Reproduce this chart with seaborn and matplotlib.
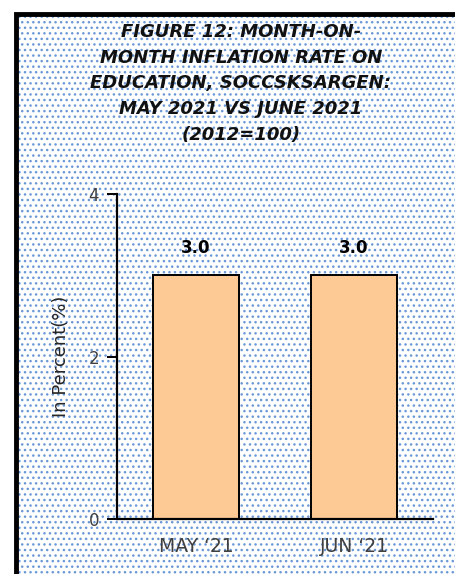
import numpy as np
import pandas as pd
import matplotlib
matplotlib.use("Agg")
import matplotlib.pyplot as plt
from matplotlib.patches import Rectangle
import seaborn as sns

months = ["MAY \u201821", "JUN \u201821"]
rates = [3.0, 3.0]
yticks = [0, 2, 4]
title = ("FIGURE 12: MONTH-ON-\nMONTH INFLATION RATE ON\nEDUCATION, SOCCSKSARGEN:\n"
         "MAY 2021 VS JUNE 2021\n(2012=100)")

df = pd.DataFrame({"month": months, "rate": rates})

sns.set_style("white")
plt.rcParams["font.family"] = ["DejaVu Sans"]
plt.rcParams["hatch.linewidth"] = 1.0

fig = plt.figure(figsize=(4.55, 5.74), dpi=100)

# dotted blue background, thick black frame on left/top
x0, y0 = 16 / 455, -0.1
w, h = 1.2, 1.1 - 13.5 / 574
fig.patches.append(Rectangle((x0, y0), w, h, transform=fig.transFigure,
                             facecolor="white", edgecolor="#6a98d6", linewidth=0,
                             hatch="...", zorder=-10))
fig.patches.append(Rectangle((x0, y0), w, h, transform=fig.transFigure,
                             facecolor="none", edgecolor="black", linewidth=3.5,
                             zorder=-9))

ax = fig.add_axes([117 / 455, 1 - 519 / 574, 316 / 455, 325 / 574])
ax.set_facecolor("none")

sns.barplot(data=df, x="month", y="rate", color="#fdca96", edgecolor="black",
            linewidth=1.4, width=0.545, saturation=1, ax=ax)

for i, v in enumerate(rates):
    ax.text(i, v + 0.22, f"{v:.1f}", ha="center", va="bottom",
            fontsize=12, fontweight="bold", color="black")

ax.set_xlim(-0.5, 1.5)
ax.set_ylim(0, 4)
ax.set_yticks(yticks)
ax.set_xlabel("")
ax.set_ylabel("In Percent(%)", fontsize=13, color="#262626", labelpad=13)
ax.tick_params(axis="y", length=7, width=1.4, color="black", labelsize=12,
               labelcolor="#404040", left=True, pad=6)
ax.tick_params(axis="x", length=0, labelsize=13.5, labelcolor="#404040", pad=13)

for s in ["top", "right"]:
    ax.spines[s].set_visible(False)
for s in ["left", "bottom"]:
    ax.spines[s].set_color("black")
    ax.spines[s].set_linewidth(1.6)

fig.text(241 / 455, 1 - 23 / 574, title, ha="center", va="top", fontsize=13,
         fontweight="bold", fontstyle="italic", color="#111111", linespacing=1.55)

fig.savefig("out.png", dpi=100)
